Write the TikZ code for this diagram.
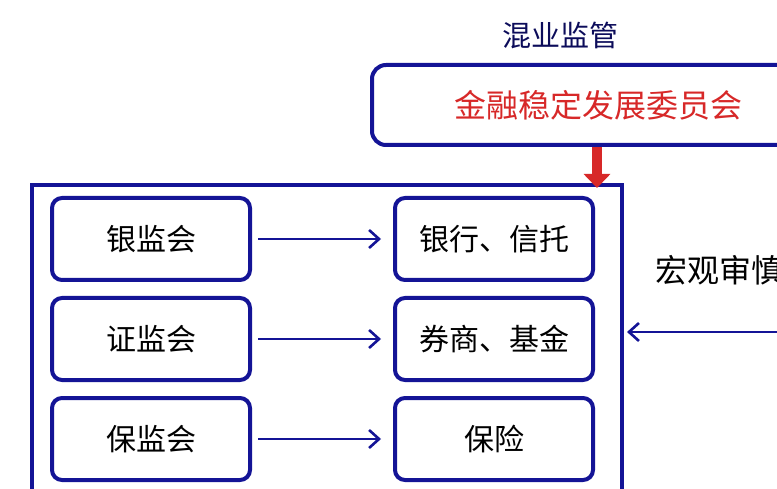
\documentclass[tikz,border=0pt]{standalone}
\usepackage{fontspec}
\newfontfamily\cjk{Noto Sans CJK SC}
\usetikzlibrary{arrows.meta}
\definecolor{navy}{RGB}{20,20,150}
\definecolor{redtxt}{RGB}{215,40,40}
\tikzset{
  orgbox/.style={draw=navy, line width=4pt, rounded corners=10pt, minimum width=198pt, minimum height=82pt, font=\cjk\fontsize{30}{32}\selectfont},
  flow/.style={navy, line width=2.6pt, -{Straight Barb[length=10pt,width=18pt]}}
}
\begin{document}
\begin{tikzpicture}[x=1pt,y=-1pt]
            \useasboundingbox (0,0) rectangle (777,489);
            \clip (0,0) rectangle (777,489);

            \node[font=\cjk\fontsize{29}{30}\selectfont, text=navy!60!black] (title) at (560,35) {混业监管};
            \draw[navy, line width=4pt, rounded corners=14pt] (372,65) rectangle (810,145);
            \node[font=\cjk\fontsize{32}{34}\selectfont, text=redtxt] (fsdc) at (598,105) {金融稳定发展委员会};

            \draw[navy, line width=4pt] (32,185) rectangle (622,500);
            \draw[redtxt, line width=10pt, -{Triangle[length=14pt,width=26pt]}] (597,147) -- (597,188);

            \node[orgbox] (cbrc) at (151,239) {银监会};
            \node[orgbox] (csrc) at (151,339) {证监会};
            \node[orgbox] (circ) at (151,439) {保监会};
            \node[orgbox] (bank) at (494,239) {银行、信托};
            \node[orgbox] (sec) at (494,339) {券商、基金};
            \node[orgbox] (ins) at (494,439) {保险};

            \draw[flow] (cbrc.east) ++(6,0) -- ([xshift=-12pt]bank.west);
            \draw[flow] (csrc.east) ++(6,0) -- ([xshift=-12pt]sec.west);
            \draw[flow] (circ.east) ++(6,0) -- ([xshift=-12pt]ins.west);

            \node[font=\cjk\fontsize{32}{34}\selectfont, anchor=west] (macro) at (652,270) {宏观审慎};
            \coordinate (edge) at (790,332);
            \draw[flow] (edge) -- (627,332);
\end{tikzpicture}
\end{document}
